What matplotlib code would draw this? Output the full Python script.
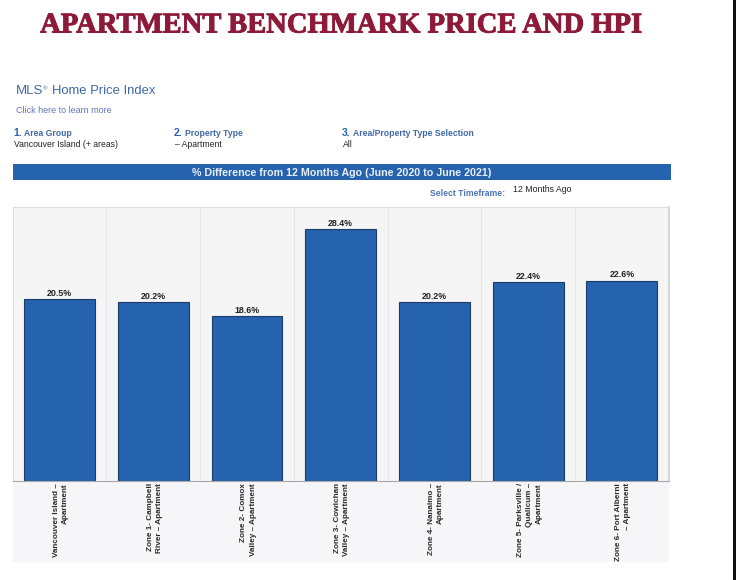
"""
Apartment benchmark price and HPI, % difference from 12 months ago.
"""

import matplotlib.pyplot as plt
import matplotlib.patheffects as pe
from matplotlib.patches import Rectangle
from matplotlib.transforms import ScaledTranslation

W, H = 736, 580

areas = [
    "Vancouver Island –\nApartment",
    "Zone 1- Campbell\nRiver – Apartment",
    "Zone 2- Comox\nValley – Apartment",
    "Zone 3- Cowichan\nValley – Apartment",
    "Zone 4- Nanaimo –\nApartment",
    "Zone 5- Parksville /\nQualicum –\nApartment",
    "Zone 6- Port Alberni\n– Apartment",
]
pct_change = [20.5, 20.2, 18.6, 28.4, 20.2, 22.4, 22.6]

BLUE = "#2563ae"
HEAD = "#3f68a8"
SANS = "Liberation Sans"


def put(x, y, s, **kw):
    # x, y in image pixels
    kw.setdefault("family", SANS)
    kw.setdefault("va", "center")
    return fig.text(x / W, 1 - y / H, s, **kw)


def box(x0, y0, x1, y1, color):
    # zorder below the axes, otherwise it hides the tick labels
    fig.add_artist(Rectangle((x0 / W, 1 - y1 / H), (x1 - x0) / W, (y1 - y0) / H,
                             transform=fig.transFigure, color=color, lw=0, zorder=-1))


fig = plt.figure(figsize=(W / 100, H / 100), dpi=100)

# dark strip down the right edge of the screenshot
box(733, 0, 736, 580, "#111111")

t = put(341, 25, "APARTMENT BENCHMARK PRICE AND HPI", family="Liberation Serif",
        weight="bold", size=20.6, color="#8e1a3a", ha="center")
t.set_path_effects([pe.withStroke(linewidth=0.7, foreground="#8e1a3a")])

put(15.5, 91, "MLS", size=9.5, color=HEAD)
put(43, 88.5, "®", size=4.5, color=HEAD)
put(52, 91, "Home Price Index", size=9.4, color=HEAD)
put(16, 110.5, "Click here to learn more", size=6.5, color="#5f78b8")

put(13, 133, "1.", size=7.5, color=BLUE, weight="bold")
put(24, 133, "Area Group", size=6.2, color=HEAD, weight="bold")
put(14, 144, "Vancouver Island (+ areas)", size=6.2, color="#222222")
put(174, 133, "2.", size=7.5, color=BLUE, weight="bold")
put(185, 133, "Property Type", size=6.2, color=HEAD, weight="bold")
put(175, 144, "– Apartment", size=6.2, color="#222222")
put(342, 133, "3.", size=7.5, color=BLUE, weight="bold")
put(353, 133, "Area/Property Type Selection", size=6.2, color=HEAD, weight="bold")
put(343, 144, "All", size=6.2, color="#222222")

box(13, 164, 671, 180, BLUE)
put(342, 172.5, "% Difference from 12 Months Ago (June 2020 to June 2021)", size=7.7,
    color="#e8eef8", weight="bold", ha="center")

put(430, 193.5, "Select Timeframe:", size=6.2, color="#4a74b8", weight="bold")
put(513, 190, "12 Months Ago", size=6.3, color="#222222")

# background of the rotated labels
box(13, 481, 669, 562, "#f6f6f8")

ax = fig.add_axes([12.7 / W, 1 - 481 / H, 656 / W, 274 / H])
ax.set_facecolor("#f5f5f6")
x = list(range(len(areas)))
ax.bar(x, pct_change, width=0.755, color=BLUE, edgecolor="#1c3d66", linewidth=0.8)
for i, v in zip(x, pct_change):
    ax.annotate(f"{v}%", (i, v), xytext=(0, 0.8), textcoords="offset points",
                ha="center", va="bottom", size=6.4, weight="bold", family=SANS,
                color="#222222")

ax.set_xlim(-0.5, 6.5)
ax.set_ylim(0, 30.9)
ax.set_yticks([])
for b in range(1, 7):
    ax.axvline(b - 0.5, color="#e6e6e8", lw=0.8, zorder=0)
ax.set_xticks(x)
ax.set_xticklabels(areas, rotation=90, ha="center", va="top", multialignment="right",
                   size=5.9, weight="bold", family=SANS, color="#2a2a2a",
                   linespacing=1.45)
ax.tick_params(axis="x", length=0, pad=1.5)
for lab in ax.get_xticklabels():
    lab.set_transform(lab.get_transform() + ScaledTranslation(1.5 / 100, 0, fig.dpi_scale_trans))
for s in ["top", "left"]:
    ax.spines[s].set_color("#dddddd")
ax.spines["right"].set_color("#cfcfcf")
ax.spines["right"].set_linewidth(1.2)
ax.spines["bottom"].set_color("#a8a8a8")

fig.savefig("out.png", dpi=100)
